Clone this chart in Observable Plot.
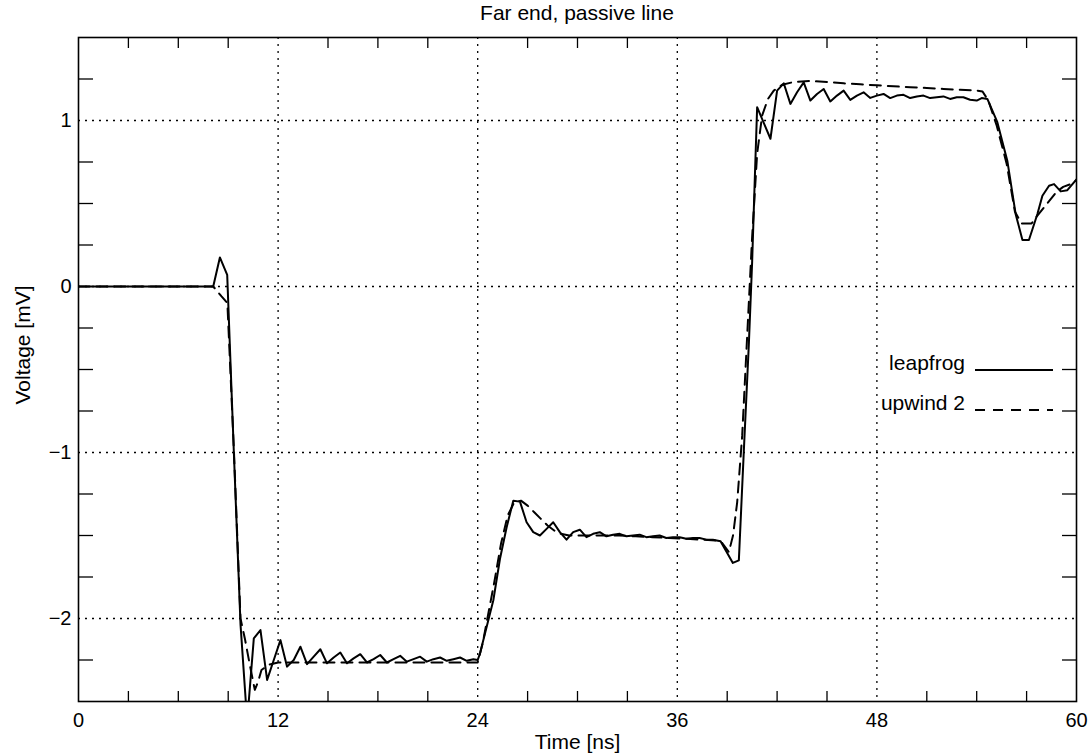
<!DOCTYPE html>
<html><head><meta charset="utf-8">
<script src="https://cdn.jsdelivr.net/npm/d3@7"></script>
<script src="https://cdn.jsdelivr.net/npm/@observablehq/plot@0.6"></script>
<style>
body{margin:0;background:#fff;}
#wrap{position:relative;width:1089px;height:755px;font-family:"Liberation Sans",Arial,sans-serif;color:#000;}
#title{height:26px;line-height:26px;font-size:21px;text-align:center;padding-left:65px;}
#overlay{position:absolute;left:0;top:0;pointer-events:none;}
</style></head><body>
<div id="wrap"><div id="title"></div><div id="chart"></div><svg id="overlay" width="1089" height="755"></svg></div>
<script>
const titleText = "Far end, passive line";
const xLabel = "Time [ns]";
const yLabel = "Voltage [mV]";
const seriesNames = ["leapfrog", "upwind 2"];
const majorX = [0, 12, 24, 36, 48, 60];
const gridXTicks = [12, 24, 36, 48];
const minorX = [3, 6, 9, 15, 18, 21, 27, 30, 33, 39, 42, 45, 51, 54, 57];
const majorY = [-2, -1, 0, 1];
const minorY = [-2.25, -1.75, -1.5, -1.25, -0.75, -0.5, -0.25, 0.25, 0.5, 0.75, 1.25];

// leapfrog: [time ns, voltage mV]
const leapfrog = [
[0,0],[8.1,0],[8.5,0.175],[8.94,0.07],[9.34,-1.0],[9.74,-2.035],[10.14,-2.62],[10.54,-2.12],[10.94,-2.07],
[11.34,-2.37],[11.74,-2.25],[12.14,-2.13],[12.54,-2.29],[12.94,-2.25],[13.34,-2.17],[13.74,-2.275],[14.14,-2.23],
[14.54,-2.185],[14.94,-2.27],[15.34,-2.235],[15.74,-2.205],[16.14,-2.27],[16.54,-2.24],[16.94,-2.215],[17.34,-2.265],
[17.74,-2.245],[18.14,-2.22],[18.54,-2.265],[18.94,-2.245],[19.34,-2.225],[19.74,-2.26],[20.14,-2.245],[20.54,-2.23],
[20.94,-2.26],[21.34,-2.245],[21.74,-2.235],[22.14,-2.255],[22.54,-2.245],[22.94,-2.235],[23.34,-2.255],[23.74,-2.245],
[24.0,-2.25],[24.14,-2.21],[24.54,-2.05],[24.94,-1.89],[25.34,-1.64],[25.74,-1.45],[26.14,-1.29],[26.54,-1.296],
[26.94,-1.42],[27.34,-1.48],[27.74,-1.50],[28.14,-1.46],[28.54,-1.42],[28.94,-1.48],[29.34,-1.525],[29.74,-1.48],
[30.14,-1.465],[30.54,-1.51],[30.94,-1.49],[31.34,-1.48],[31.74,-1.505],[32.14,-1.495],[32.54,-1.49],[32.94,-1.505],
[33.34,-1.5],[33.74,-1.495],[34.14,-1.51],[34.54,-1.505],[34.94,-1.5],[35.34,-1.515],[35.74,-1.51],[36.14,-1.51],
[36.54,-1.52],[36.94,-1.515],[37.34,-1.515],[37.74,-1.525],[38.14,-1.525],[38.6,-1.535],[39.34,-1.665],[39.7,-1.65],
[40.0,-0.99],[40.3,-0.35],[40.5,0.15],[40.65,0.62],[40.8,1.08],[41.6,0.89],[42.0,1.18],[42.4,1.224],[42.8,1.10],
[43.2,1.17],[43.6,1.23],[44.0,1.12],[44.4,1.16],[44.8,1.19],[45.2,1.115],[45.6,1.15],[46.0,1.18],[46.4,1.124],
[46.8,1.15],[47.2,1.17],[47.6,1.136],[48.0,1.15],[48.4,1.16],[48.8,1.135],[49.2,1.15],[49.6,1.155],[50.0,1.135],
[50.4,1.145],[50.8,1.15],[51.2,1.135],[51.6,1.14],[52.0,1.145],[52.4,1.13],[52.8,1.14],[53.2,1.14],[53.6,1.125],
[54.0,1.12],[54.3,1.135],[54.64,1.13],[55.24,0.99],[55.84,0.758],[56.34,0.437],[56.75,0.28],[57.14,0.28],
[57.65,0.437],[57.95,0.547],[58.35,0.607],[58.65,0.617],[59.05,0.573],[59.45,0.58],[60.0,0.645]
];

// upwind 2: [time ns, voltage mV]
const upwind = [
[0,0],[8.1,0],[8.6,-0.06],[8.95,-0.1],[9.34,-0.98],[9.74,-2.0],[10.0,-2.12],[10.3,-2.28],[10.6,-2.43],[10.8,-2.38],
[11.0,-2.31],[11.4,-2.28],[12.0,-2.265],[24.0,-2.265],[24.3,-2.15],[24.6,-1.99],[25.0,-1.78],[25.4,-1.55],[25.8,-1.38],
[26.2,-1.30],[26.6,-1.29],[27.0,-1.32],[27.4,-1.36],[27.8,-1.40],[28.2,-1.44],[28.6,-1.47],[29.0,-1.49],[29.5,-1.5],
[30.5,-1.5],[31.5,-1.5],[32.5,-1.5],[33.5,-1.505],[34.5,-1.51],[35.5,-1.515],[36.5,-1.52],[37.5,-1.525],[38.3,-1.53],
[38.7,-1.545],[39.1,-1.6],[39.35,-1.5],[39.6,-1.3],[39.9,-0.9],[40.2,-0.3],[40.5,0.3],[40.8,0.8],[41.1,1.03],
[41.45,1.13],[41.8,1.18],[42.3,1.215],[43.0,1.232],[44.0,1.238],[45.0,1.232],[46.0,1.224],[47.0,1.218],[48.0,1.212],
[49.0,1.206],[50.0,1.2],[51.0,1.196],[52.0,1.19],[53.0,1.185],[54.0,1.18],[54.35,1.175],[54.7,1.12],[55.2,0.97],
[55.8,0.74],[56.3,0.45],[56.7,0.38],[57.3,0.38],[57.6,0.42],[58.0,0.47],[58.4,0.52],[58.8,0.57],[59.2,0.6],
[59.6,0.615],[60.0,0.64]
];

const seriesData = [leapfrog, upwind];
const seriesDash = [null, "11,7"];
const fmtInt = d => (d < 0 ? "\u2212" : "") + Math.abs(d);

document.getElementById("title").textContent = titleText;

const chart = Plot.plot({
  width: 1089,
  height: 729,
  marginTop: 11,
  marginBottom: 54,
  marginLeft: 78,
  marginRight: 13,
  x: {domain: [0, 60]},
  y: {domain: [-2.5, 1.5]},
  style: {fontFamily: "Liberation Sans, Arial, sans-serif", fontSize: "20px", background: "white", color: "black", overflow: "visible"},
  marks: [
    Plot.gridX(gridXTicks, {stroke: "black", strokeOpacity: 1, strokeWidth: 1.3, strokeDasharray: "2,5"}),
    Plot.gridY(majorY, {stroke: "black", strokeOpacity: 1, strokeWidth: 1.3, strokeDasharray: "2,5"}),
    Plot.axisX(majorX, {anchor: "bottom", tickSize: 0, tickPadding: 11, tickFormat: fmtInt, label: null}),
    Plot.axisX(minorX, {anchor: "bottom", tickSize: -10, tickFormat: () => "", label: null, strokeWidth: 1.3}),
    Plot.axisX(minorX, {anchor: "top", tickSize: -10, tickFormat: () => "", label: null, strokeWidth: 1.3}),
    Plot.axisY(majorY, {anchor: "left", tickSize: 0, tickPadding: 7, tickFormat: fmtInt, label: null}),
    Plot.axisY(minorY, {anchor: "left", tickSize: -15, tickFormat: () => "", label: null, strokeWidth: 1.3}),
    Plot.axisY(minorY, {anchor: "right", tickSize: -15, tickFormat: () => "", label: null, strokeWidth: 1.3}),
    ...seriesData.map((data, i) => Plot.line(data, {
      x: d => d[0], y: d => d[1], stroke: "black", strokeWidth: 2,
      strokeDasharray: seriesDash[i], clip: true
    })),
    Plot.frame({stroke: "black", strokeWidth: 1.6}),
    Plot.text([xLabel], {text: d => d, frameAnchor: "bottom", dy: 47, fontSize: 21})
  ]
});
document.getElementById("chart").appendChild(chart);

const ov = d3.select("#overlay");
const font = "Liberation Sans, Arial, sans-serif";
// y-axis label
ov.append("text").attr("transform", "translate(22,345) rotate(-90)")
  .attr("text-anchor", "middle").attr("dominant-baseline", "central")
  .attr("font-family", font).attr("font-size", 21).attr("fill", "black").text(yLabel);
// legend inside the frame
const rowBase = [370, 410];
seriesNames.forEach((name, i) => {
  ov.append("text").attr("x", 965).attr("y", rowBase[i]).attr("text-anchor", "end")
    .attr("font-family", font).attr("font-size", 21).attr("fill", "black").text(name);
  ov.append("line").attr("x1", 975).attr("x2", 1053).attr("y1", rowBase[i]).attr("y2", rowBase[i])
    .attr("stroke", "black").attr("stroke-width", 2)
    .attr("stroke-dasharray", i === 0 ? null : "10,8");
});
</script>
</body></html>
